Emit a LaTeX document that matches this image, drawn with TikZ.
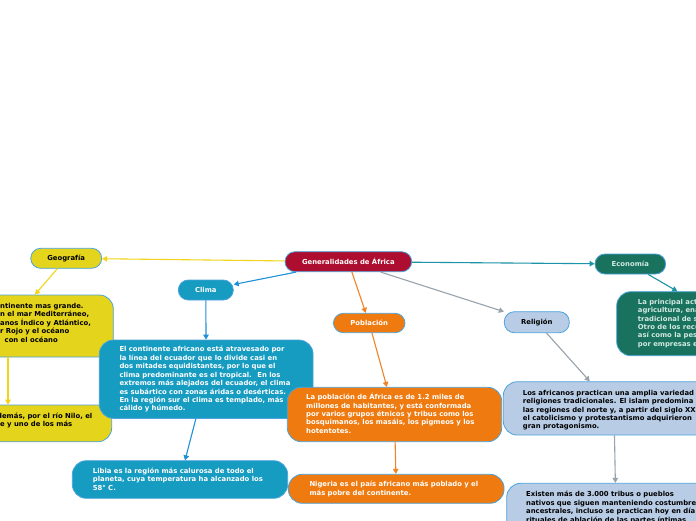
\documentclass[tikz,border=0pt]{standalone}
\usepackage{fontspec}
\setmainfont{DejaVu Sans}
\usetikzlibrary{arrows.meta}
\definecolor{crim}{HTML}{AD0D2F}
\definecolor{ylwf}{HTML}{E5D41C}
\definecolor{bluf}{HTML}{169BC1}
\definecolor{orgf}{HTML}{EE7A10}
\definecolor{lbf}{HTML}{B8CCE6}
\definecolor{grnf}{HTML}{19725E}
\definecolor{bord}{HTML}{4BA3DC}
\definecolor{ylwl}{HTML}{F2D51A}
\definecolor{blul}{HTML}{2090D8}
\definecolor{orgl}{HTML}{EF8426}
\definecolor{gryl}{HTML}{98A2AC}
\definecolor{teal2}{HTML}{1C93A6}
\definecolor{grntx}{HTML}{D2EAE2}
\tikzset{
  box/.style={draw=bord, line width=0.8pt, rounded corners=10pt, inner sep=0pt, rectangle},
  small/.style={box, minimum height=20pt, font=\fontsize{6.85}{8.4}\selectfont\bfseries},
  big/.style={box, rounded corners=14pt},
  txt/.style={anchor=north west, align=left, inner sep=0pt, font=\fontsize{6.85}{8.45}\selectfont\bfseries},
  con/.style={line width=1.1pt, -{Triangle[length=5pt,width=5.5pt]}},
}
\begin{document}
\begin{tikzpicture}[x=1pt,y=-1pt]
\useasboundingbox (0,0) rectangle (696,520);
\clip (0,0) rectangle (696,520);
\fill[white] (0,0) rectangle (696,520);

% main nodes
\node[small, fill=crim, text=white, minimum width=126.7pt] (cen) at (348.35,261.7) {Generalidades de África};
\node[small, fill=ylwf, text=black, minimum width=71pt] (geo) at (66.2,258.3) {Geografía};
\node[small, fill=bluf, text=white, minimum width=55pt] (cli) at (205.8,290) {Clima};
\node[small, fill=orgf, text=white, minimum width=71.7pt, minimum height=19.4pt] (pob) at (369.2,323) {Población};
\node[small, fill=lbf, text=black, minimum width=65pt, minimum height=21pt] (rel) at (536.8,322.2) {Religión};
\node[small, fill=grnf, text=grntx, minimum width=70.7pt] (eco) at (630.3,264) {Economía};

% detail boxes
\node[big, fill=ylwf, minimum width=210.6pt, minimum height=62pt] (gd) at (8,326) {};
\node[big, fill=ylwf, minimum width=207.4pt, minimum height=36.7pt] (gd2) at (8,423.4) {};
\node[big, fill=bluf, minimum width=213.7pt, minimum height=78.3pt] (cd) at (206.2,379.2) {};
\node[big, fill=bluf, minimum width=215.4pt, minimum height=37.6pt] (lib) at (180,479.5) {};
\node[big, fill=orgf, minimum width=214.4pt, minimum height=54.4pt] (pd) at (394.5,414.5) {};
\node[big, fill=orgf, minimum width=215.7pt, minimum height=29pt] (nig) at (396.2,488.8) {};
\node[big, fill=lbf, minimum width=221.4pt, minimum height=53.3pt] (rd) at (614,408.4) {};
\node[big, fill=lbf, minimum width=218.6pt, minimum height=70pt] (ex) at (616,518.3) {};
\node[big, fill=grnf, minimum width=232.6pt, minimum height=64pt] (ed) at (733,323.7) {};

% texts
\node[txt, text=black] (gdt) at (0,302.4) {\strut ntinente mas grande.\\n el mar Mediterráneo,\\anos Índico y Atlántico,\\r Rojo y el océano\\\hspace*{4.5pt}con el océano};
\node[txt, text=black] (gd2t) at (-3,412.4) {\strut demás, por el río Nilo, el\\\hspace*{3pt}e y uno de los más};
\node[txt, text=white] (cdt) at (119.3,345.7) {\strut El continente africano está atravesado por\\la línea del ecuador que lo divide casi en\\dos mitades equidistantes, por lo que el\\clima predominante es el tropical.~ En los\\extremos más alejados del ecuador, el clima\\es subártico con zonas áridas o desérticas.\\En la región sur el clima es templado, más\\cálido y húmedo.};
\node[txt, text=white] (libt) at (92.7,467.4) {\strut Libia es la región más calurosa de todo el\\planeta, cuya temperatura ha alcanzado los\\58° C.};
\node[txt, text=white] (pdt) at (306,393.0) {\strut La población de África es de 1.2 miles de\\millones de habitantes, y está conformada\\por varios grupos étnicos y tribus como los\\bosquimanos, los masáis, los pigmeos y los\\hotentotes.};
\node[txt, text=white] (nigt) at (309.3,480.7) {\strut Nigeria es el país africano más poblado y el\\más pobre del continente.};
\node[txt, text=black] (rdt) at (522.7,389.0) {\strut Los africanos practican una amplia variedad\\religiones tradicionales. El islam predomina\\las regiones del norte y, a partir del siglo XX\\el catolicismo y protestantismo adquirieron\\gran protagonismo.};
\node[txt, text=black] (ext) at (526,490.7) {\strut Existen más de 3.000 tribus o pueblos\\nativos que siguen manteniendo costumbres\\ancestrales, incluso se practican hoy en día\\rituales de ablación de las partes íntimas};
\node[txt, text=grntx] (edt) at (637.7,298.0) {\strut La principal act\\agricultura, ena\\tradicional de s\\Otro de los recu\\así como la pesc\\por empresas e};

% connectors
\draw[con, ylwl] (cen) -- (geo);
\draw[con, ylwl] (geo) -- (gd);
\draw[con, ylwl] (gd) -- (gd2);
\draw[con, blul] (cen) -- (cli);
\draw[con, blul] (cli) -- (cd);
\draw[con, blul] (cd) -- (lib);
\draw[con, orgl] (cen) -- (pob);
\draw[con, orgl] (pob) -- (pd);
\draw[con, orgl] (pd) -- (nig);
\draw[con, gryl] (cen) -- (rel);
\draw[con, gryl] (rel) -- (rd);
\draw[con, gryl] (rd) -- (ex);
\draw[con, teal2] (cen) -- (eco);
\draw[con, teal2] (eco) -- (ed);
\end{tikzpicture}
\end{document}
